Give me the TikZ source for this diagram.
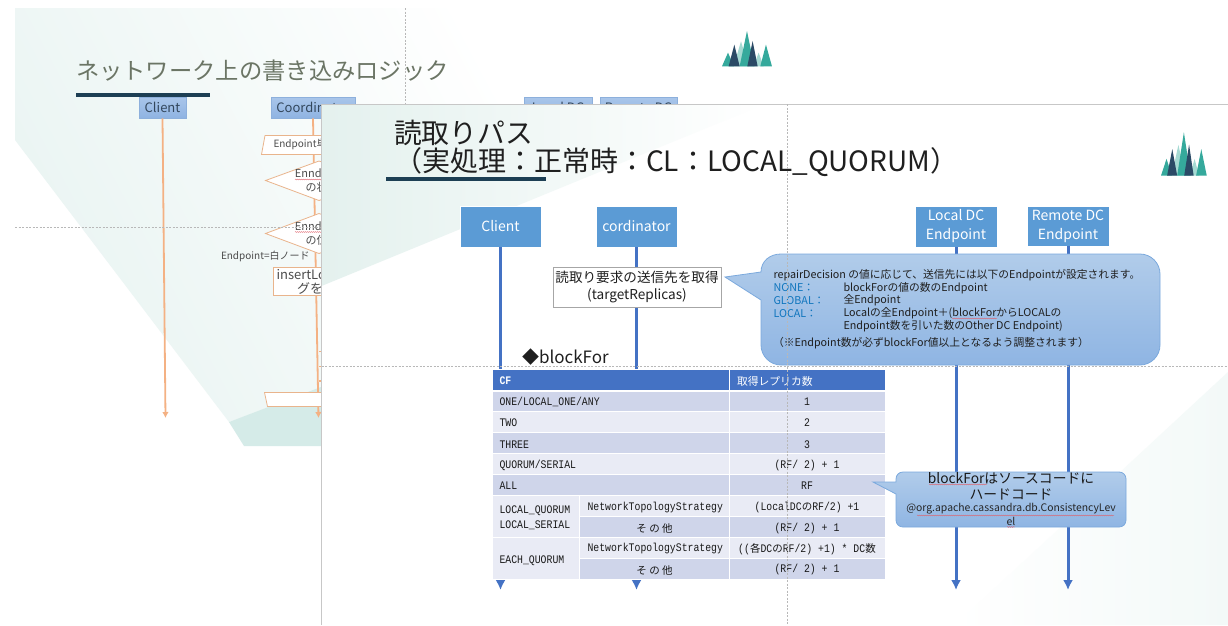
\documentclass[tikz,border=0pt]{standalone}
\usepackage{fontspec}
\setmainfont{Noto Sans CJK JP}
\newfontfamily\jpf{Noto Sans CJK JP}
\newfontfamily\tm[FakeStretch=0.85]{Liberation Mono}
\usetikzlibrary{arrows.meta,decorations.pathmorphing,shapes.geometric}
\definecolor{life}{HTML}{4472C4}
\definecolor{lifeO}{HTML}{F4B183}
\definecolor{boxB}{HTML}{5B9BD5}
\definecolor{rowD}{HTML}{CFD5EA}
\definecolor{rowL}{HTML}{E9EBF5}
\definecolor{rulec}{HTML}{1D3F54}
\definecolor{guide}{HTML}{B8B8B8}
\definecolor{keyw}{HTML}{0F75BD}
\definecolor{tealA}{HTML}{35A99C}
\definecolor{tealB}{HTML}{A5DAD3}
\definecolor{navyA}{HTML}{2B4A66}
\definecolor{bbT}{HTML}{A9C6EA}
\definecolor{bbB}{HTML}{8FB3E2}
\definecolor{bbE}{HTML}{8DB0DC}
\definecolor{orE}{HTML}{E9B48C}
\definecolor{backT}{HTML}{33475C}
\definecolor{callT}{HTML}{B1CCEA}
\definecolor{callB}{HTML}{8FB5E3}
\definecolor{callE}{HTML}{7BA9DD}
\definecolor{bgA}{HTML}{E9F4F2}
\definecolor{bgB}{HTML}{D5EBE8}
\definecolor{bgC}{HTML}{E4F1EE}
\definecolor{bgD}{HTML}{F3F9F8}
\definecolor{titleB}{HTML}{6B7565}
\definecolor{waveC}{HTML}{E0606A}
\newcommand{\fs}[1]{\fontsize{#1}{#1}\selectfont}
% logo: base x, base y, x-scale, y-scale
\newcommand{\logo}[4]{%
 \begin{scope}[shift={(#1,#2)},x=#3pt,y=#4pt]
  \fill[tealA] (0,0)--(18,41)--(36,0)--cycle;
  \fill[tealB] (35,0)--(57,75)--(80,0)--cycle;
  \fill[tealB] (95,0)--(110,41)--(125,0)--cycle;
  \fill[tealA] (53,0)--(75,106)--(97,0)--cycle;
  \fill[tealA] (115,0)--(132,65)--(150,0)--cycle;
  \fill[navyA] (20,0)--(37,65)--(53,0)--cycle;
  \fill[navyA] (76,0)--(92,76)--(107,0)--cycle;
 \end{scope}}
\newcommand{\cellf}[5]{\fill[#5] (#1,#2) rectangle (#3,#4);}
\tikzset{
 txt/.style={inner sep=0pt,outer sep=0pt},
 lifeline/.style={draw=life,line width=3pt,-{Latex[length=10pt,width=10pt]}},
 lifelineO/.style={draw=lifeO,line width=1.8pt,-{Latex[length=6pt,width=6.5pt]}},
 headbox/.style={fill=boxB,draw=white,line width=.5pt,inner sep=0pt,text=white,align=center,font=\fs{14}},
 backbox/.style={top color=bbT,bottom color=bbB,draw=bbE,line width=.7pt,inner sep=0pt,text=backT,font=\fs{13}},
 orangeshape/.style={draw=orE,fill=white,line width=.8pt},
 guideline/.style={draw=guide,line width=.6pt,dash pattern=on 2pt off 1.5pt},
 wavy/.style={draw=waveC,line width=.4pt,decorate,decoration={snake,amplitude=.45pt,segment length=2pt}},
 tcell/.style={txt,font=\tm\fs{11.55},text=black!90},
 calltxt/.style={txt,anchor=west,font=\fs{10.75},text=black!88},
}
\begin{document}
\begin{tikzpicture}[x=1pt,y=-1pt]
\useasboundingbox (0,0) rectangle (1228,625);
\fill[white] (0,0) rectangle (1228,625);
% ---------- back slide ----------
\shade[bottom color=bgA,top color=white,shading angle=-62,draw=none]
  (15,8)--(560,8)--(560,300)--(229,422)--(15,140)--cycle;
\fill[bgB] (229,422)--(244,446)--(321,446)--(321,387)--cycle;
\node[txt,anchor=west,text=titleB,font=\fs{23.3}] (backtitle) at (76,70.5) {ネットワーク上の書き込みロジック};
\fill[rulec] (76,92.5) rectangle (210,96.5);
\node[backbox,minimum width=47pt,minimum height=21pt] (bclient) at (162.5,107.5) {\raisebox{.8pt}{Client}};
\node[backbox,minimum width=84pt,minimum height=21pt] (bcoord) at (313,107.5) {\raisebox{.8pt}{Coordinator}};
\node[backbox,minimum width=68pt,minimum height=21pt] (blocal) at (558,107.5) {Local DC};
\node[backbox,minimum width=77pt,minimum height=21pt] (bremote) at (638.5,107.5) {Remote DC};
\coordinate (bclientEnd) at (165.5,418);
\coordinate (bcoordEnd) at (318.5,418);
\draw[lifelineO] (bclient.south) -- (bclientEnd);
\draw[lifelineO] (bcoord.south) -- (bcoordEnd);
\path[orangeshape] (265,135.5)--(360,135.5)--(360,154.5)--(261.5,154.5)--cycle;
\node[txt,anchor=west,font=\fs{10},text=black!70] (bp1) at (273.5,144.5) {Endpoint単位で};
\path[orangeshape] (265.5,180.5)--(319,161)--(375,180.5)--(319,200.5)--cycle;
\node[txt,align=center,font=\fs{11},text=black!70] (bd1) at (322,180.5) {Enndpoint\\[1pt]の状態};
\path[orangeshape] (265.5,233.5)--(319,213.5)--(375,233.5)--(319,253.5)--cycle;
\node[txt,align=center,font=\fs{11},text=black!70] (bd2) at (322,233.5) {Enndpoint\\[1pt]の位置};
\draw[wavy] (295,179.5)--(330,179.5);
\draw[wavy] (295,232)--(330,232);
\node[txt,anchor=west,font=\fs{10},text=black!70] (bp2) at (221,256.5) {Endpoint=白ノード};
\path[orangeshape] (273.5,267.5) rectangle (380,295.5);
\node[txt,align=center,font=\fs{13},text=black!70] (bp3) at (323,281.5) {insertLocalログ\\[1pt]グを出力};
\path[orangeshape] (264.5,392.5)--(360,392.5)--(360,406.5)--(267.5,406.5)--cycle;
\fill[lifeO] (319,350.5) rectangle (323,352);
\fill[lifeO] (319,365.5) rectangle (323,367);
\fill[lifeO] (319,380) rectangle (323,381.5);
\draw[guideline] (405,8)--(405,104);
\draw[guideline] (15,227.5)--(321.5,227.5);
\logo{722}{66.3}{.333}{.333}
% ---------- front slide ----------
\fill[white] (321.5,104) rectangle (1228,625);
\shade[left color=bgC,middle color=bgC!50!white,right color=white,draw=none] (321.5,104)--(765,104)--(321.5,286)--cycle;
\shade[left color=white,right color=bgD,draw=none] (1228,372)--(1228,625)--(955,625)--cycle;
\draw[draw=black!22,line width=.9pt] (321.5,625)--(321.5,104)--(1228,104);
\node[txt,anchor=west,font=\fs{27.8},text=black!88] (title1) at (394,133) {読取りパス};
\node[txt,anchor=west,font=\fs{28},text=black!88] (title2) at (394,162) {（実処理：正常時：CL：LOCAL\_QUORUM）};
\fill[rulec] (386,176.5) rectangle (546,181);
\logo{1161}{175.7}{.305}{.41}
\node[headbox,minimum width=81.5pt,minimum height=41pt] (client) at (500.5,226.5) {Client};
\node[headbox,minimum width=81.5pt,minimum height=41pt] (cord) at (636.5,226.5) {cordinator};
\node[headbox,minimum width=82pt,minimum height=41pt] (localdc) at (956,226.5) {\raisebox{-1.5pt}{Local DC}\\[5pt]\raisebox{-1.5pt}{Endpoint}};
\node[headbox,minimum width=82pt,minimum height=40pt] (remotedc) at (1068,226) {\raisebox{-1.5pt}{Remote DC}\\[5pt]\raisebox{-1.5pt}{Endpoint}};
\coordinate (clientEnd) at (500.5,590);
\coordinate (cordEnd) at (636.5,590);
\coordinate (localEnd) at (956,590);
\coordinate (remoteEnd) at (1068,590);
\draw[lifeline] (client.south) -- (clientEnd);
\draw[lifeline] (cord.south) -- (cordEnd);
\draw[lifeline] (localdc.south) -- (localEnd);
\draw[lifeline] (remotedc.south) -- (remoteEnd);
\node[draw=black!35,fill=white,line width=.8pt,minimum width=168pt,minimum height=40pt,inner sep=0pt,align=center,font=\fs{13.6},text=black!88] (target) at (637,287) {読取り要求の送信先を取得\\[3pt](targetReplicas)};
% big callout
\path[top color=callT,bottom color=callB,draw=callE,line width=.8pt]
  (725,277) -- (761,272) .. controls (761,261) and (770,254) .. (781,254)
  -- (1140,254) .. controls (1151,254) and (1160,263) .. (1160,274)
  -- (1160,345) .. controls (1160,356) and (1151,365) .. (1140,365)
  -- (781,365) .. controls (770,365) and (761,356) .. (761,345)
  -- (761,300) -- cycle;
\node[calltxt] (c1) at (773.5,275) {repairDecision の値に応じて、送信先には以下のEndpointが設定されます。};
\node[calltxt,text=keyw] (c2a) at (773.5,288) {NONE：};
\node[calltxt] (c2b) at (843.5,288) {blockForの値の数のEndpoint};
\node[calltxt,text=keyw] (c3a) at (773.5,300.5) {GLOBAL：};
\node[calltxt] (c3b) at (843.5,300.5) {全Endpoint};
\node[calltxt,text=keyw] (c4a) at (773.5,313.5) {LOCAL：};
\node[calltxt] (c4b) at (843.5,313.5) {Localの全Endpoint＋(blockForからLOCALの};
\node[calltxt] (c5) at (843.5,326.5) {Endpoint数を引いた数のOther DC Endpoint)};
\node[calltxt] (c6) at (773,343) {（※Endpoint数が必ずblockFor値以上となるよう調整されます）};
\draw[wavy] (952,318.5)--(997,318.5);
% blockFor title
\node[txt,anchor=west,font=\fs{17},text=black!88] (bf) at (522,357) {◆blockFor};
% table
\fill[white] (492,369) rectangle (886,580);
\cellf{493}{370}{729}{389.5}{life}
\cellf{730}{370}{885}{389.5}{life}
\cellf{493}{391.7}{729}{410.7}{rowD}\cellf{730}{391.7}{885}{410.7}{rowD}
\cellf{493}{411.7}{729}{432.3}{rowL}\cellf{730}{411.7}{885}{432.3}{rowL}
\cellf{493}{433.3}{729}{452.7}{rowD}\cellf{730}{433.3}{885}{452.7}{rowD}
\cellf{493}{453.7}{729}{474.3}{rowL}\cellf{730}{453.7}{885}{474.3}{rowL}
\cellf{493}{475}{729}{495}{rowD}\cellf{730}{475}{885}{495}{rowD}
\cellf{493}{496}{578.5}{537}{rowL}
\cellf{579.5}{496}{729}{516.3}{rowL}\cellf{730}{496}{885}{516.3}{rowL}
\cellf{579.5}{517.3}{729}{537}{rowD}\cellf{730}{517.3}{885}{537}{rowD}
\cellf{493}{538}{578.5}{579}{rowL}
\cellf{579.5}{538}{729}{558.3}{rowL}\cellf{730}{538}{885}{558.3}{rowL}
\cellf{579.5}{559.3}{729}{579}{rowD}\cellf{730}{559.3}{885}{579}{rowD}
\node[tcell,anchor=west,text=white] (h1) at (499.5,381) {\bfseries CF};
\node[tcell,anchor=west,text=white] (h2) at (737,381) {\jpf\fs{10.8}取得レプリカ数};
\node[tcell,anchor=west] (r1) at (499.5,402) {ONE/LOCAL\_ONE/ANY};
\node[tcell,anchor=west] (r2) at (499.5,423) {TWO};
\node[tcell,anchor=west] (r3) at (499.5,444.5) {THREE};
\node[tcell,anchor=west] (r4) at (499.5,465.5) {QUORUM/SERIAL};
\node[tcell,anchor=west] (r5) at (499.5,486) {ALL};
\node[tcell,anchor=west] (r6) at (499.5,511) {LOCAL\_QUORUM};
\node[tcell,anchor=west] (r7) at (499.5,525) {LOCAL\_SERIAL};
\node[tcell,anchor=west] (r8) at (499.5,560.5) {EACH\_QUORUM};
\node[tcell,anchor=west] (s1) at (587.5,507.5) {NetworkTopologyStrategy};
\node[tcell] (s2) at (654.5,528.5) {\jpf\fs{10.5}そ の 他};
\node[tcell,anchor=west] (s3) at (587.5,549) {NetworkTopologyStrategy};
\node[tcell] (s4) at (654.5,570) {\jpf\fs{10.5}そ の 他};
\node[tcell] (v1) at (807,402) {1};
\node[tcell] (v2) at (807,423) {2};
\node[tcell] (v3) at (807,444.5) {3};
\node[tcell] (v4) at (807,465.5) {(RF/ 2) + 1};
\node[tcell] (v5) at (807,486) {RF};
\node[tcell] (v6) at (807,507.5) {(LocalDC{\jpf\fs{10.5}の}RF/2) +1};
\node[tcell] (v7) at (807,528.5) {(RF/ 2) + 1};
\node[tcell] (v8) at (807,549) {(({\jpf\fs{10.5}各}DC{\jpf\fs{10.5}の}RF/2) +1) * DC{\jpf\fs{10.5}数}};
\node[tcell] (v9) at (807,570) {(RF/ 2) + 1};
% small callout
\path[top color=callT,bottom color=callB,draw=callE,line width=.8pt]
  (873,482) -- (896,482) -- (896,479) .. controls (896,475) and (899,472) .. (903,472)
  -- (1119,472) .. controls (1123,472) and (1126,475) .. (1126,479)
  -- (1126,520) .. controls (1126,524) and (1123,527) .. (1119,527)
  -- (903,527) .. controls (899,527) and (896,524) .. (896,520)
  -- (896,494) -- cycle;
\node[txt,font=\fs{13.8},text=black!90] (n1) at (1011,478.5) {blockForはソースコードに};
\node[txt,font=\fs{13.8},text=black!90] (n2) at (1011,494.5) {ハードコード};
\node[txt,font=\fs{10.4},text=black!85] (n3) at (1011,509) {@org.apache.cassandra.db.ConsistencyLev};
\node[txt,font=\fs{10.4},text=black!85] (n4) at (1011,521) {el};
\draw[wavy] (929,484.5)--(987,484.5);
\draw[wavy] (917,515.5)--(1114,515.5);
\draw[wavy] (1007,527)--(1015,527);
% guides
\draw[guideline] (787.5,104)--(787.5,625);
\draw[guideline] (321.5,366.5)--(1228,366.5);
\end{tikzpicture}
\end{document}
